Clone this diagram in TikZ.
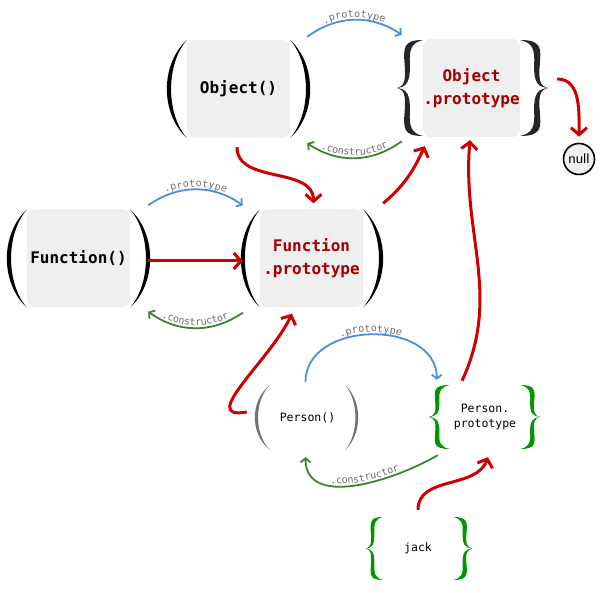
\documentclass[tikz,border=0pt]{standalone}
\usepackage{fontspec}
\setmonofont{DejaVu Sans Mono}
\newfontfamily\carlitofont{Carlito}
\usetikzlibrary{arrows.meta,decorations.text}
\definecolor{linkred}{RGB}{204,0,0}
\definecolor{protoblue}{RGB}{74,144,217}
\definecolor{ctorgreen}{RGB}{62,130,50}
\definecolor{bracegreen}{RGB}{0,150,0}
\definecolor{protored}{RGB}{160,0,0}
\definecolor{boxgray}{RGB}{239,239,239}
\definecolor{parengray}{RGB}{118,110,112}
\definecolor{labelgray}{RGB}{110,110,110}
\newcommand\labelfont{\fontsize{10}{12}\selectfont\ttfamily}

\tikzset{
  paren/.pic={
    \fill (0,0.5) .. controls (-1.33,0.25) and (-1.33,-0.25) .. (0,-0.5)
      .. controls (-1.05,-0.25) and (-1.05,0.25) .. cycle;
  },
  brace/.pic={
    \fill (0,0.5) .. controls (-0.75,0.5) and (-0.75,0.42) .. (-0.7,0.25)
      .. controls (-0.65,0.08) and (-0.7,0.02) .. (-1,0)
      .. controls (-0.7,-0.02) and (-0.65,-0.08) .. (-0.7,-0.25)
      .. controls (-0.75,-0.42) and (-0.75,-0.5) .. (0,-0.5)
      .. controls (-0.45,-0.47) and (-0.52,-0.4) .. (-0.5,-0.25)
      .. controls (-0.47,-0.05) and (-0.65,-0.01) .. (-1,0)
      .. controls (-0.65,0.01) and (-0.47,0.05) .. (-0.5,0.25)
      .. controls (-0.52,0.4) and (-0.45,0.47) .. cycle;
  },
}

\begin{document}
\begin{tikzpicture}[x=1pt,y=1pt,
  box/.style={fill=boxgray, rounded corners=8pt, minimum width=103pt, minimum height=98pt,
    inner sep=0pt, align=center, font=\fontsize{16}{23}\selectfont\ttfamily\bfseries},
  smallbox/.style={minimum width=70pt, minimum height=64pt, inner sep=0pt, align=center,
    font=\fontsize{11.5}{15}\selectfont\ttfamily},
  protolink/.style={protoblue, line width=1.8pt, -{Straight Barb[length=4pt,width=10pt]}},
  ctorlink/.style={ctorgreen, line width=1.8pt, {Straight Barb[length=4pt,width=10pt]}-},
  protochain/.style={linkred, line width=3pt, -{Straight Barb[length=7pt,width=16pt]}},
  linklabel/.style={postaction={decorate, arrows=-, decoration={text along path,
    text align=center, raise=2.5pt, text color=labelgray, text={|\labelfont|#1}}}}]
  \useasboundingbox (0,0) rectangle (604,593);

  \node[box] (obj) at (238.5,504) {Object()};
  \node[box, minimum width=97pt, text=protored] (objproto) at (471.5,505) {Object\\.prototype};
  \node[box] (fun) at (78.5,334.5) {Function()};
  \node[box, text=protored] (funproto) at (311.5,334.5) {Function\\.prototype};
  \node[smallbox, minimum width=75pt, minimum height=65pt] (person) at (307.5,175.5) {Person()};
  \node[smallbox] (pproto) at (485,176) {Person.\\prototype};
  \node[smallbox, minimum height=63pt] (jack) at (418,44.5) {jack};
  \node[circle, draw, line width=1.6pt, fill=boxgray, minimum size=31pt, inner sep=0pt,
    font=\carlitofont\fontsize{14}{16}\selectfont] (null) at (579,434) {null};

  % brackets round the nodes
  \pic[xscale=20, yscale=98] at (obj.west) {paren};
  \pic[xscale=-20, yscale=98] at (obj.east) {paren};
  \pic[xscale=20, yscale=98] at (fun.west) {paren};
  \pic[xscale=-20, yscale=98] at (fun.east) {paren};
  \pic[xscale=19, yscale=98] at (funproto.west) {paren};
  \pic[xscale=-20, yscale=98] at (funproto.east) {paren};
  \pic[xscale=15, yscale=65, color=parengray] at (person.west) {paren};
  \pic[xscale=-13, yscale=65, color=parengray] at (person.east) {paren};
  \pic[xscale=26, yscale=96, color=black!85] at (objproto.west) {brace};
  \pic[xscale=-28, yscale=96, color=black!85] at (objproto.east) {brace};
  \pic[xscale=21, yscale=64, color=bracegreen] at (pproto.west) {brace};
  \pic[xscale=-20, yscale=64, color=bracegreen] at (pproto.east) {brace};
  \pic[xscale=17, yscale=63, color=bracegreen] at (jack.west) {brace};
  \pic[xscale=-19, yscale=63, color=bracegreen] at (jack.east) {brace};

  % .prototype
  \draw[protolink, linklabel=.prototype] ([shift={(17,3)}]obj.north east) to[bend left=35]
    ([shift={(-21,4)}]objproto.north west);
  \draw[protolink, linklabel=.prototype] ([shift={(18,4)}]fun.north east) to[bend left=35]
    ([shift={(-17,4)}]funproto.north west);
  \draw[protolink, linklabel=.prototype] ([shift={(-2,3)}]person.north) to[out=90, in=90, looseness=1.2]
    ([shift={(-13,5)}]pproto.north west);

  % .constructor
  \draw[ctorlink, linklabel=.constructor] ([shift={(17,-5)}]obj.south east) to[bend right=35]
    ([shift={(-21,-4)}]objproto.south west);
  \draw[ctorlink, linklabel=.constructor] ([shift={(18,-4)}]fun.south east) to[bend right=35]
    ([shift={(-17,-5)}]funproto.south west);
  \draw[ctorlink, linklabel=.constructor] ([shift={(-2,-7)}]person.south) to[out=-90, in=-150]
    ([shift={(-12,-6)}]pproto.south west);

  % prototype chain
  \draw[protochain] ([shift={(-1.5,-9)}]obj.south) to[out=-90, in=90] ([shift={(2,6)}]funproto.north);
  \draw[protochain] ([shift={(18,-2.5)}]fun.east) -- ([shift={(-17,-2.5)}]funproto.west);
  \draw[protochain] ([shift={(20,6)}]funproto.north east) to[out=40, in=-115] ([shift={(2,-9)}]objproto.south west);
  \draw[protochain] ([shift={(-23,4)}]pproto.north) to[out=65, in=-95] ([shift={(-1.5,-3)}]objproto.south);
  \draw[protochain] ([shift={(-23,5.5)}]person.west) to[out=190, in=-115, looseness=1.2] ([shift={(-19.5,-6)}]funproto.south);
  \draw[protochain] ([shift={(0,7)}]jack.north) to[out=90, in=-110] ([shift={(3,-8)}]pproto.south);
  \draw[protochain] ([shift={(37,9)}]objproto.east) to[out=0, in=90] ([yshift=6]null.north);
\end{tikzpicture}
\end{document}
